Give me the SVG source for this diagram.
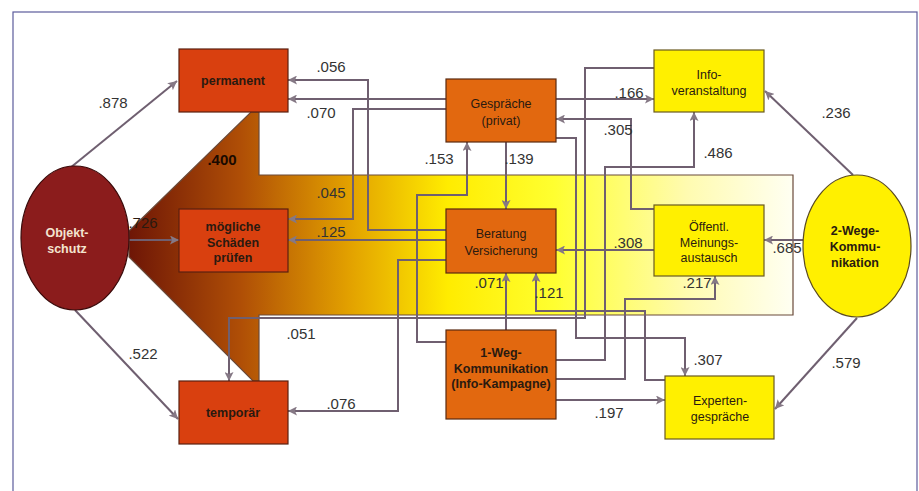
<svg xmlns="http://www.w3.org/2000/svg" width="919" height="491" viewBox="0 0 919 491">
<defs>
<linearGradient id="bg" gradientUnits="userSpaceOnUse" x1="129" y1="0" x2="793" y2="0">
<stop offset="0" stop-color="#6e1606"/>
<stop offset="0.17" stop-color="#b04f06"/>
<stop offset="0.33" stop-color="#e2a000"/>
<stop offset="0.48" stop-color="#ffec00"/>
<stop offset="0.64" stop-color="#ffff30"/>
<stop offset="0.84" stop-color="#fffbb0"/>
<stop offset="1" stop-color="#fffff2"/>
</linearGradient>
<marker id="ah" markerUnits="userSpaceOnUse" markerWidth="10" markerHeight="9" refX="9" refY="4.5" orient="auto">
<path d="M0,0 L9,4.5 L0,9 L2,4.5 z" fill="#857885"/>
</marker>
</defs>
<style>
.red{fill:#d9400f;stroke:#5a2010;stroke-width:1.2}
.org{fill:#e2680f;stroke:#5a2a10;stroke-width:1.2}
.yel{fill:#fff000;stroke:#6a5a20;stroke-width:1.2}
.c{fill:none;stroke:#6f5f70;stroke-width:2;marker-end:url(#ah)}
.cn{fill:none;stroke:#6f5f70;stroke-width:2}
text{font-family:"Liberation Sans",Arial,sans-serif}
.t{font-size:12.5px;fill:#2a1a10;text-anchor:middle}
.b{font-weight:bold}
.l{font-size:15px;fill:#333;text-anchor:middle}
</style>
<rect x="13" y="12" width="904" height="495" fill="#fff" stroke="#5c5c9c" stroke-width="1.2"/>
<polygon points="129,231 251,112 259,112 259,175 793,175 793,315 259,315 259,381 253,381 129,257" fill="url(#bg)" stroke="#6a4a3a" stroke-width="1.2"/>
<g id="connectors">
<path class="c" d="M70,168 L177,81"/>
<path class="c" d="M129,240 L179,240"/>
<path class="c" d="M75,310 L178,419"/>
<path class="c" d="M446,99 H288"/>
<path class="c" d="M446,230 H368 V80 H288"/>
<path class="c" d="M446,109 H353 V219 H288"/>
<path class="c" d="M446,240 H288"/>
<path class="c" d="M446,260 H398 V411 H288"/>
<path class="c" d="M446,342 H417 V195 H467 V142"/>
<path class="c" d="M506,142 V209"/>
<path class="c" d="M556,99 H654"/>
<path class="c" d="M654,209 H631 V119 H556"/>
<path class="c" d="M556,360 H605 V167 H694 V112"/>
<path class="c" d="M556,379 H625 V299 H715 V276"/>
<path class="c" d="M803,240 H764"/>
<path class="c" d="M853,175 L765,91"/>
<path class="c" d="M857,318 L775,409"/>
<path class="c" d="M556,400 H665"/>
<path class="c" d="M556,138 H576 V338 H685 V376"/>
<path class="c" d="M665,380 H645 V311 H536 V273"/>
<path class="c" d="M506,330 V273"/>
<path class="c" d="M654,250 H556"/>
<path class="c" d="M654,68 H585 V318 H229 V381"/>
</g>
<g id="objektschutz">
<ellipse cx="75" cy="238" rx="54" ry="72" fill="#8b1c1c" stroke="#3a0a0a" stroke-width="1.2"/>
<text class="t b" x="67" y="237" style="fill:#f4e4d0">Objekt-</text>
<text class="t b" x="67" y="253" style="fill:#f4e4d0">schutz</text>
</g>
<g id="permanent">
<rect class="red" x="179" y="49" width="109" height="63"/>
<text class="t b" x="233" y="85">permanent</text>
</g>
<g id="moegliche">
<rect class="red" x="179" y="209" width="109" height="63"/>
<text class="t b" x="233" y="231">mögliche</text>
<text class="t b" x="233" y="247">Schäden</text>
<text class="t b" x="233" y="262">prüfen</text>
</g>
<g id="temporaer">
<rect class="red" x="179" y="381" width="109" height="63"/>
<text class="t b" x="233" y="417">temporär</text>
</g>
<g id="gespraeche">
<rect class="org" x="446" y="79" width="110" height="63"/>
<text class="t" x="501" y="108">Gespräche</text>
<text class="t" x="501" y="125">(privat)</text>
</g>
<g id="beratung">
<rect class="org" x="446" y="209" width="110" height="64"/>
<text class="t" x="501" y="238">Beratung</text>
<text class="t" x="501" y="255">Versicherung</text>
</g>
<g id="einweg">
<rect class="org" x="446" y="330" width="110" height="89"/>
<text class="t b" x="501" y="357">1-Weg-</text>
<text class="t b" x="501" y="373">Kommunikation</text>
<text class="t b" x="501" y="388">(Info-Kampagne)</text>
</g>
<g id="infoveranstaltung">
<rect class="yel" x="654" y="50" width="110" height="62"/>
<text class="t" x="709" y="79">Info-</text>
<text class="t" x="709" y="95">veranstaltung</text>
</g>
<g id="oeffentl">
<rect class="yel" x="654" y="205" width="110" height="71"/>
<text class="t" x="709" y="231">Öffentl.</text>
<text class="t" x="709" y="247">Meinungs-</text>
<text class="t" x="709" y="262">austausch</text>
</g>
<g id="experten">
<rect class="yel" x="665" y="376" width="109" height="63"/>
<text class="t" x="720" y="405">Experten-</text>
<text class="t" x="720" y="421">gespräche</text>
</g>
<g id="zweiwege">
<ellipse cx="857" cy="246" rx="54" ry="71" fill="#fff000" stroke="#5a4a20" stroke-width="1.2"/>
<text class="t b" x="855" y="235">2-Wege-</text>
<text class="t b" x="855" y="251">Kommu-</text>
<text class="t b" x="855" y="267">nikation</text>
</g>
<g id="labels">
<text class="l" x="113" y="108">.878</text>
<text class="l" x="331" y="72">.056</text>
<text class="l" x="321" y="118">.070</text>
<text class="l b" x="222" y="165" style="fill:#1a0a00">.400</text>
<text class="l" x="331" y="198">.045</text>
<text class="l" x="143" y="228" style="fill:#2a1a10">.726</text>
<text class="l" x="331" y="237">.125</text>
<text class="l" x="439" y="164">.153</text>
<text class="l" x="519" y="164">.139</text>
<text class="l" x="629" y="98">.166</text>
<text class="l" x="618" y="135">.305</text>
<text class="l" x="718" y="158">.486</text>
<text class="l" x="836" y="118">.236</text>
<text class="l" x="628" y="248">.308</text>
<text class="l" x="787" y="253">.685</text>
<text class="l" x="489" y="288">.071</text>
<text class="l" x="549" y="298">.121</text>
<text class="l" x="697" y="288">.217</text>
<text class="l" x="708" y="365">.307</text>
<text class="l" x="846" y="368">.579</text>
<text class="l" x="609" y="418">.197</text>
<text class="l" x="301" y="339">.051</text>
<text class="l" x="341" y="409">.076</text>
<text class="l" x="143" y="359">.522</text>
</g>
</svg>
